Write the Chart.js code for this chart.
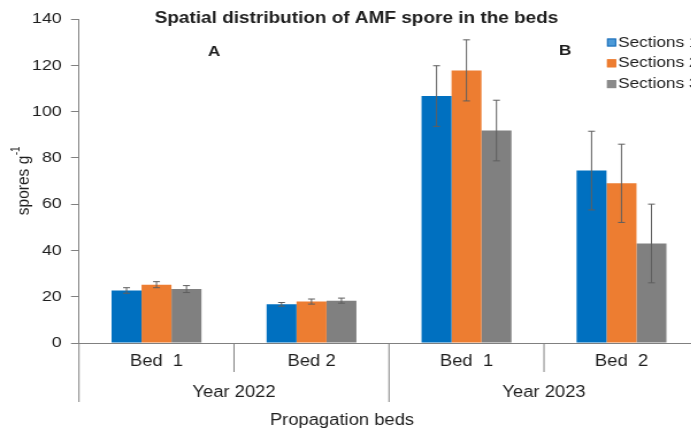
<!DOCTYPE html>
<html><head><meta charset="utf-8">
<script src="https://cdn.jsdelivr.net/npm/chart.js@4.4.0/dist/chart.umd.min.js"></script>
<style>
html,body{margin:0;padding:0;overflow:hidden;background:#fff;width:691px;height:430px}
#c{position:absolute;left:0;top:0;transform:scaleX(1.15);transform-origin:0 0}
</style></head><body>
<canvas id="c" width="626" height="430"></canvas>
<script>
// ---- data ----
const categories = ['Bed  1', 'Bed 2', 'Bed  1', 'Bed  2'];
const years = ['Year 2022', 'Year 2023'];
const seriesNames = ['Sections 1', 'Sections 2', 'Sections 3'];
const section1 = [22.7, 16.7, 106.7, 74.5];
const section2 = [25.2, 17.9, 117.8, 69.0];
const section3 = [23.3, 18.3, 91.8, 43.0];
const err1 = [1.2, 0.8, 13.1, 17.0];
const err2 = [1.3, 1.1, 13.2, 16.9];
const err3 = [1.5, 1.1, 13.1, 17.0];
const yMin = 0, yMax = 140, yStep = 20;
const panelLabels = ['A', 'B'];
const chartTitle = 'Spatial distribution of AMF spore in the beds';
const xTitle = 'Propagation beds';
const yTitle = 'spores g';
const yTitleSup = '-1';

// ---- style ----
const SX = 1.15;
const FONT = "'Liberation Sans', Arial, Helvetica, sans-serif";
const AXIS = '#808080';
const TEXT = '#1e1e1e';
const colors = ['#0070C0', '#ED7D31', '#808080'];
const legendFill = ['#4c9ad8', '#ED7D31', '#8a8a8a'];
const legendStroke = ['#1d6fb8', '#ED7D31', '#8a8a8a'];
Chart.defaults.font.family = FONT;
Chart.defaults.color = TEXT;

const W = 626;
const plotLeft = 79 / SX, plotRight = 699 / SX;

const decor = {
  id: 'decor',
  afterDatasetsDraw(chart) {
    const {ctx, scales: {y}} = chart;
    ctx.save();
    ctx.strokeStyle = '#5f5f5f';
    ctx.lineWidth = 1;
    chart.data.datasets.forEach((ds, i) => {
      const meta = chart.getDatasetMeta(i);
      meta.data.forEach((el, j) => {
        const v = ds.data[j], e = ds.errors[j];
        const yt = y.getPixelForValue(v + e), yb = y.getPixelForValue(v - e);
        ctx.beginPath();
        ctx.moveTo(el.x, yt); ctx.lineTo(el.x, yb);
        ctx.moveTo(el.x - 3, yt); ctx.lineTo(el.x + 3, yt);
        ctx.moveTo(el.x - 3, yb); ctx.lineTo(el.x + 3, yb);
        ctx.stroke();
      });
    });
    ctx.restore();
  },
  afterDraw(chart) {
    const {ctx, chartArea: ca, scales: {x}} = chart;
    ctx.save();
    ctx.strokeStyle = AXIS; ctx.lineWidth = 1;
    const bnd = i => (x.getPixelForValue(i) + x.getPixelForValue(i + 1)) / 2;
    const line = (x0, y0, x1, y1) => { ctx.beginPath(); ctx.moveTo(x0, y0); ctx.lineTo(x1, y1); ctx.stroke(); };
    line(ca.left, ca.bottom, ca.left, 402);
    line(bnd(1), ca.bottom, bnd(1), 402);
    line(bnd(0), ca.bottom, bnd(0), 372);
    line(bnd(2), ca.bottom, bnd(2), 372);

    ctx.fillStyle = TEXT;
    ctx.textAlign = 'center'; ctx.textBaseline = 'middle';
    ctx.font = '16px ' + FONT;
    ctx.fillText(years[0], bnd(0), 392.5);
    ctx.fillText(years[1], bnd(2), 392.5);
    ctx.fillText(xTitle, 342 / SX, 421);

    ctx.font = 'bold 16.5px ' + FONT;
    ctx.fillText(chartTitle, 356.5 / SX, 18.5);
    ctx.font = 'bold 15px ' + FONT;
    ctx.fillText(panelLabels[0], 214 / SX, 52);
    ctx.fillText(panelLabels[1], 565 / SX, 51);

    // legend
    ctx.font = '15px ' + FONT;
    ctx.textAlign = 'left';
    chart.data.datasets.forEach((ds, i) => {
      const cy = 42.5 + i * 20.8;
      const bx = 607 / SX;
      ctx.fillStyle = legendFill[i];
      ctx.fillRect(bx, cy - 4, 8, 8);
      ctx.strokeStyle = legendStroke[i];
      ctx.strokeRect(bx + 0.5, cy - 3.5, 7, 7);
      ctx.fillStyle = TEXT;
      ctx.fillText(ds.label, 618 / SX, cy);
    });

    // y title
    ctx.save();
    ctx.translate(19.6, 181);
    ctx.rotate(-Math.PI / 2);
    ctx.font = '15.5px ' + FONT;
    const w1 = ctx.measureText(yTitle).width;
    ctx.font = '10px ' + FONT;
    const w2 = ctx.measureText(yTitleSup).width;
    const start = -(w1 + w2) / 2;
    ctx.textAlign = 'left';
    ctx.font = '15.5px ' + FONT;
    ctx.fillText(yTitle, start, 1);
    ctx.font = '10px ' + FONT;
    ctx.fillText(yTitleSup, start + w1 + 0.5, -5);
    ctx.restore();
    ctx.restore();
  }
};

new Chart(document.getElementById('c'), {
  type: 'bar',
  data: {
    labels: categories,
    datasets: [
      {label: seriesNames[0], data: section1, errors: err1, backgroundColor: colors[0]},
      {label: seriesNames[1], data: section2, errors: err2, backgroundColor: colors[1]},
      {label: seriesNames[2], data: section3, errors: err3, backgroundColor: colors[2]}
    ]
  },
  options: {
    responsive: false, animation: false, devicePixelRatio: 1,
    datasets: {bar: {barPercentage: 1, categoryPercentage: 0.58, borderWidth: 0}},
    layout: {padding: {left: 0, right: W - plotRight, top: 19, bottom: 0}},
    plugins: {legend: {display: false}, title: {display: false}, tooltip: {enabled: false}},
    scales: {
      x: {
        grid: {display: true, drawOnChartArea: false, drawTicks: false},
        border: {display: true, color: AXIS, width: 1},
        ticks: {font: {size: 16}, color: TEXT, padding: 9, maxRotation: 0, autoSkip: false},
        afterFit(s) { s.height = 87; }
      },
      y: {
        min: yMin, max: yMax,
        ticks: {stepSize: yStep, font: {size: 15.5}, color: TEXT, padding: 8},
        grid: {drawOnChartArea: false, drawTicks: true, tickLength: 7, color: AXIS},
        border: {display: true, color: AXIS, width: 1},
        afterFit(s) { s.width = plotLeft; }
      }
    }
  },
  plugins: [decor]
});
</script>
</body></html>
